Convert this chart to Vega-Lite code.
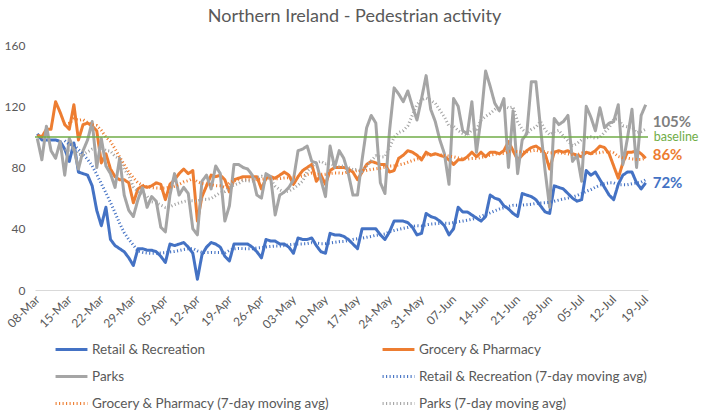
{
  "$schema": "https://vega.github.io/schema/vega-lite/v6.json",
  "width": 613,
  "height": 245,
  "autosize": "none",
  "padding": {"left": 35, "top": 45, "right": 57, "bottom": 130},
  "background": "white",
  "config": {
    "font": "Lato",
    "view": {"stroke": null},
    "axis": {"labelFont": "Lato", "labelColor": "#595959", "labelFontSize": 12}
  },
  "title": {
    "text": "Northern Ireland - Pedestrian activity",
    "font": "Lato",
    "fontSize": 18,
    "fontWeight": "normal",
    "color": "#595959",
    "anchor": "middle",
    "offset": 13,
    "dx": 13
  },
  "layer": [
    {
      "data": {
        "values": [
          {"d": "2020-03-08", "r": 102, "g": 101, "p": 99},
          {"d": "2020-03-09", "r": 98, "g": 100, "p": 85},
          {"d": "2020-03-10", "r": 98, "g": 105, "p": 107},
          {"d": "2020-03-11", "r": 98, "g": 105, "p": 91},
          {"d": "2020-03-12", "r": 98, "g": 123, "p": 86},
          {"d": "2020-03-13", "r": 97, "g": 116, "p": 97},
          {"d": "2020-03-14", "r": 92, "g": 108, "p": 75},
          {"d": "2020-03-15", "r": 84, "g": 105, "p": 99},
          {"d": "2020-03-16", "r": 96, "g": 121, "p": 92},
          {"d": "2020-03-17", "r": 77, "g": 98, "p": 79},
          {"d": "2020-03-18", "r": 76, "g": 108, "p": 91},
          {"d": "2020-03-19", "r": 75, "g": 109, "p": 98},
          {"d": "2020-03-20", "r": 68, "g": 107, "p": 110},
          {"d": "2020-03-21", "r": 52, "g": 104, "p": 80},
          {"d": "2020-03-22", "r": 42, "g": 83, "p": 99},
          {"d": "2020-03-23", "r": 54, "g": 89, "p": 81},
          {"d": "2020-03-24", "r": 33, "g": 79, "p": 76},
          {"d": "2020-03-25", "r": 29, "g": 74, "p": 67},
          {"d": "2020-03-26", "r": 27, "g": 72, "p": 86},
          {"d": "2020-03-27", "r": 25, "g": 72, "p": 62},
          {"d": "2020-03-28", "r": 21, "g": 70, "p": 52},
          {"d": "2020-03-29", "r": 16, "g": 57, "p": 48},
          {"d": "2020-03-30", "r": 27, "g": 66, "p": 59},
          {"d": "2020-03-31", "r": 27, "g": 68, "p": 67},
          {"d": "2020-04-01", "r": 26, "g": 67, "p": 54},
          {"d": "2020-04-02", "r": 26, "g": 68, "p": 61},
          {"d": "2020-04-03", "r": 25, "g": 70, "p": 58},
          {"d": "2020-04-04", "r": 22, "g": 69, "p": 41},
          {"d": "2020-04-05", "r": 18, "g": 59, "p": 38},
          {"d": "2020-04-06", "r": 30, "g": 69, "p": 62},
          {"d": "2020-04-07", "r": 29, "g": 72, "p": 76},
          {"d": "2020-04-08", "r": 30, "g": 76, "p": 62},
          {"d": "2020-04-09", "r": 31, "g": 79, "p": 67},
          {"d": "2020-04-10", "r": 28, "g": 76, "p": 63},
          {"d": "2020-04-11", "r": 24, "g": 78, "p": 40},
          {"d": "2020-04-12", "r": 7, "g": 45, "p": 36},
          {"d": "2020-04-13", "r": 23, "g": 61, "p": 71},
          {"d": "2020-04-14", "r": 28, "g": 68, "p": 75},
          {"d": "2020-04-15", "r": 31, "g": 75, "p": 66},
          {"d": "2020-04-16", "r": 30, "g": 74, "p": 81},
          {"d": "2020-04-17", "r": 28, "g": 75, "p": 76},
          {"d": "2020-04-18", "r": 22, "g": 72, "p": 45},
          {"d": "2020-04-19", "r": 19, "g": 64, "p": 55},
          {"d": "2020-04-20", "r": 30, "g": 72, "p": 82},
          {"d": "2020-04-21", "r": 30, "g": 73, "p": 82},
          {"d": "2020-04-22", "r": 30, "g": 74, "p": 80},
          {"d": "2020-04-23", "r": 30, "g": 74, "p": 79},
          {"d": "2020-04-24", "r": 28, "g": 74, "p": 75},
          {"d": "2020-04-25", "r": 25, "g": 74, "p": 62},
          {"d": "2020-04-26", "r": 21, "g": 66, "p": 60},
          {"d": "2020-04-27", "r": 33, "g": 73, "p": 76},
          {"d": "2020-04-28", "r": 32, "g": 74, "p": 74},
          {"d": "2020-04-29", "r": 32, "g": 73, "p": 49},
          {"d": "2020-04-30", "r": 30, "g": 75, "p": 62},
          {"d": "2020-05-01", "r": 30, "g": 77, "p": 64},
          {"d": "2020-05-02", "r": 28, "g": 75, "p": 67},
          {"d": "2020-05-03", "r": 24, "g": 69, "p": 72},
          {"d": "2020-05-04", "r": 34, "g": 74, "p": 91},
          {"d": "2020-05-05", "r": 33, "g": 78, "p": 92},
          {"d": "2020-05-06", "r": 33, "g": 80, "p": 94},
          {"d": "2020-05-07", "r": 34, "g": 82, "p": 84},
          {"d": "2020-05-08", "r": 29, "g": 71, "p": 83},
          {"d": "2020-05-09", "r": 25, "g": 75, "p": 72},
          {"d": "2020-05-10", "r": 24, "g": 69, "p": 61},
          {"d": "2020-05-11", "r": 37, "g": 78, "p": 94},
          {"d": "2020-05-12", "r": 36, "g": 80, "p": 80},
          {"d": "2020-05-13", "r": 36, "g": 80, "p": 91},
          {"d": "2020-05-14", "r": 35, "g": 80, "p": 86},
          {"d": "2020-05-15", "r": 33, "g": 79, "p": 76},
          {"d": "2020-05-16", "r": 30, "g": 77, "p": 62},
          {"d": "2020-05-17", "r": 27, "g": 72, "p": 62},
          {"d": "2020-05-18", "r": 40, "g": 77, "p": 85},
          {"d": "2020-05-19", "r": 40, "g": 82, "p": 106},
          {"d": "2020-05-20", "r": 40, "g": 84, "p": 114},
          {"d": "2020-05-21", "r": 40, "g": 83, "p": 109},
          {"d": "2020-05-22", "r": 36, "g": 82, "p": 70},
          {"d": "2020-05-23", "r": 33, "g": 82, "p": 63},
          {"d": "2020-05-24", "r": 38, "g": 77, "p": 104},
          {"d": "2020-05-25", "r": 45, "g": 78, "p": 132},
          {"d": "2020-05-26", "r": 45, "g": 86, "p": 128},
          {"d": "2020-05-27", "r": 45, "g": 88, "p": 123},
          {"d": "2020-05-28", "r": 44, "g": 91, "p": 130},
          {"d": "2020-05-29", "r": 41, "g": 90, "p": 120},
          {"d": "2020-05-30", "r": 36, "g": 88, "p": 111},
          {"d": "2020-05-31", "r": 37, "g": 85, "p": 125},
          {"d": "2020-06-01", "r": 50, "g": 90, "p": 140},
          {"d": "2020-06-02", "r": 48, "g": 88, "p": 118},
          {"d": "2020-06-03", "r": 47, "g": 89, "p": 110},
          {"d": "2020-06-04", "r": 45, "g": 88, "p": 98},
          {"d": "2020-06-05", "r": 42, "g": 87, "p": 89},
          {"d": "2020-06-06", "r": 36, "g": 85, "p": 69},
          {"d": "2020-06-07", "r": 40, "g": 82, "p": 125},
          {"d": "2020-06-08", "r": 54, "g": 85, "p": 120},
          {"d": "2020-06-09", "r": 51, "g": 85, "p": 104},
          {"d": "2020-06-10", "r": 51, "g": 87, "p": 102},
          {"d": "2020-06-11", "r": 49, "g": 90, "p": 123},
          {"d": "2020-06-12", "r": 47, "g": 87, "p": 90},
          {"d": "2020-06-13", "r": 45, "g": 90, "p": 112},
          {"d": "2020-06-14", "r": 48, "g": 87, "p": 143},
          {"d": "2020-06-15", "r": 62, "g": 90, "p": 133},
          {"d": "2020-06-16", "r": 60, "g": 90, "p": 122},
          {"d": "2020-06-17", "r": 59, "g": 89, "p": 117},
          {"d": "2020-06-18", "r": 55, "g": 91, "p": 125},
          {"d": "2020-06-19", "r": 53, "g": 97, "p": 80},
          {"d": "2020-06-20", "r": 50, "g": 91, "p": 117},
          {"d": "2020-06-21", "r": 48, "g": 85, "p": 76},
          {"d": "2020-06-22", "r": 63, "g": 88, "p": 98},
          {"d": "2020-06-23", "r": 62, "g": 91, "p": 102},
          {"d": "2020-06-24", "r": 61, "g": 93, "p": 136},
          {"d": "2020-06-25", "r": 59, "g": 94, "p": 136},
          {"d": "2020-06-26", "r": 55, "g": 92, "p": 106},
          {"d": "2020-06-27", "r": 51, "g": 89, "p": 78},
          {"d": "2020-06-28", "r": 50, "g": 79, "p": 54},
          {"d": "2020-06-29", "r": 68, "g": 90, "p": 112},
          {"d": "2020-06-30", "r": 67, "g": 91, "p": 108},
          {"d": "2020-07-01", "r": 66, "g": 90, "p": 110},
          {"d": "2020-07-02", "r": 63, "g": 91, "p": 114},
          {"d": "2020-07-03", "r": 60, "g": 89, "p": 84},
          {"d": "2020-07-04", "r": 58, "g": 88, "p": 88},
          {"d": "2020-07-05", "r": 59, "g": 87, "p": 71},
          {"d": "2020-07-06", "r": 78, "g": 90, "p": 120},
          {"d": "2020-07-07", "r": 75, "g": 89, "p": 113},
          {"d": "2020-07-08", "r": 77, "g": 91, "p": 104},
          {"d": "2020-07-09", "r": 72, "g": 94, "p": 119},
          {"d": "2020-07-10", "r": 67, "g": 93, "p": 106},
          {"d": "2020-07-11", "r": 62, "g": 89, "p": 109},
          {"d": "2020-07-12", "r": 59, "g": 81, "p": 110},
          {"d": "2020-07-13", "r": 69, "g": 73, "p": 121},
          {"d": "2020-07-14", "r": 75, "g": 83, "p": 82},
          {"d": "2020-07-15", "r": 77, "g": 90, "p": 99},
          {"d": "2020-07-16", "r": 77, "g": 90, "p": 118},
          {"d": "2020-07-17", "r": 70, "g": 91, "p": 80},
          {"d": "2020-07-18", "r": 66, "g": 89, "p": 114},
          {"d": "2020-07-19", "r": 70, "g": 86, "p": 121}
        ]
      },
      "transform": [
        {
          "window": [
            {"op": "mean", "field": "r", "as": "rm"},
            {"op": "mean", "field": "g", "as": "gm"},
            {"op": "mean", "field": "p", "as": "pm"},
            {"op": "row_number", "as": "n"}
          ],
          "frame": [-6, 0],
          "sort": [{"field": "d"}]
        },
        {"fold": ["r", "g", "p", "rm", "gm", "pm"], "as": ["k", "v"]},
        {"filter": "length(datum.k) == 1 || datum.n >= 7"}
      ],
      "mark": {"type": "line", "strokeJoin": "round"},
      "encoding": {
        "x": {
          "field": "d",
          "type": "temporal",
          "scale": {
            "type": "utc",
            "domain": [
              {"year": 2020, "month": 3, "date": 7, "hours": 12, "utc": true},
              {"year": 2020, "month": 7, "date": 19, "hours": 12, "utc": true}
            ]
          },
          "axis": {
            "title": null,
            "format": "%d-%b",
            "tickCount": {"interval": "week", "step": 1},
            "labelAngle": -45,
            "labelAlign": "right",
            "labelBaseline": "middle",
            "labelPadding": 7,
            "labelFlush": false,
            "labelOverlap": false,
            "ticks": false,
            "grid": false,
            "domainColor": "#D9D9D9",
            "domainWidth": 1
          }
        },
        "y": {
          "field": "v",
          "type": "quantitative",
          "scale": {"domain": [0, 160], "nice": false},
          "axis": {
            "title": null,
            "values": [0, 20, 40, 60, 80, 100, 120, 140, 160],
            "domain": false,
            "ticks": false,
            "grid": false,
            "labelPadding": 10
          }
        },
        "color": {
          "field": "k",
          "type": "nominal",
          "scale": {
            "domain": ["r", "p", "gm", "g", "rm", "pm"],
            "range": ["#4472C4", "#A5A5A5", "#ED7D31", "#ED7D31", "#4472C4", "#A5A5A5"]
          },
          "legend": {
            "title": null,
            "orient": "none",
            "legendX": 24,
            "legendY": 292,
            "columns": 2,
            "padding": 0,
            "symbolType": "M-1.45,0H1.45",
            "symbolSize": 484,
            "labelFont": "Lato",
            "labelFontSize": 13.5,
            "labelColor": "#595959",
            "labelOffset": 8,
            "labelLimit": 0,
            "columnPadding": 46,
            "rowPadding": 8,
            "labelExpr": "datum.value == 'r' ? 'Retail & Recreation' : datum.value == 'g' ? 'Grocery & Pharmacy' : datum.value == 'p' ? 'Parks' : datum.value == 'rm' ? 'Retail & Recreation (7-day moving avg)' : datum.value == 'gm' ? 'Grocery & Pharmacy (7-day moving avg)' : 'Parks (7-day moving avg)'"
          }
        },
        "strokeDash": {
          "field": "k",
          "type": "nominal",
          "scale": {
            "domain": ["r", "p", "gm", "g", "rm", "pm"],
            "range": [[1, 0], [1, 0], [1.1, 2.4], [1, 0], [1.1, 2.4], [1.1, 2.4]]
          }
        },
        "strokeWidth": {
          "field": "k",
          "type": "nominal",
          "scale": {
            "domain": ["r", "p", "gm", "g", "rm", "pm"],
            "range": [3, 3, 1.2, 3, 1.2, 1.2]
          }
        }
      }
    },
    {
      "data": {"values": [{}]},
      "mark": {"type": "rule", "color": "#70AD47", "strokeWidth": 1.5},
      "encoding": {"y": {"datum": 100}}
    },
    {
      "data": {"values": [{"d": "2020-07-19", "v": 105, "t": "105%"}]},
      "mark": {"type": "text", "align": "left", "baseline": "middle", "dx": 7, "dy": -7, "font": "Lato", "fontSize": 15, "fontWeight": "bold", "color": "#7F7F7F"},
      "encoding": {
        "x": {"field": "d", "type": "temporal"},
        "y": {"field": "v", "type": "quantitative"},
        "text": {"field": "t"}
      }
    },
    {
      "data": {"values": [{"d": "2020-07-19", "v": 86, "t": "86%"}]},
      "mark": {"type": "text", "align": "left", "baseline": "middle", "dx": 7, "dy": -3, "font": "Lato", "fontSize": 15, "fontWeight": "bold", "color": "#ED7D31"},
      "encoding": {
        "x": {"field": "d", "type": "temporal"},
        "y": {"field": "v", "type": "quantitative"},
        "text": {"field": "t"}
      }
    },
    {
      "data": {"values": [{"d": "2020-07-19", "v": 72, "t": "72%"}]},
      "mark": {"type": "text", "align": "left", "baseline": "middle", "dx": 7, "dy": 3, "font": "Lato", "fontSize": 15, "fontWeight": "bold", "color": "#4472C4"},
      "encoding": {
        "x": {"field": "d", "type": "temporal"},
        "y": {"field": "v", "type": "quantitative"},
        "text": {"field": "t"}
      }
    },
    {
      "data": {"values": [{"d": "2020-07-19", "v": 100, "t": "baseline"}]},
      "mark": {"type": "text", "align": "left", "baseline": "middle", "dx": 8, "font": "Lato", "fontSize": 12.5, "color": "#70AD47"},
      "encoding": {
        "x": {"field": "d", "type": "temporal"},
        "y": {"field": "v", "type": "quantitative"},
        "text": {"field": "t"}
      }
    }
  ]
}
